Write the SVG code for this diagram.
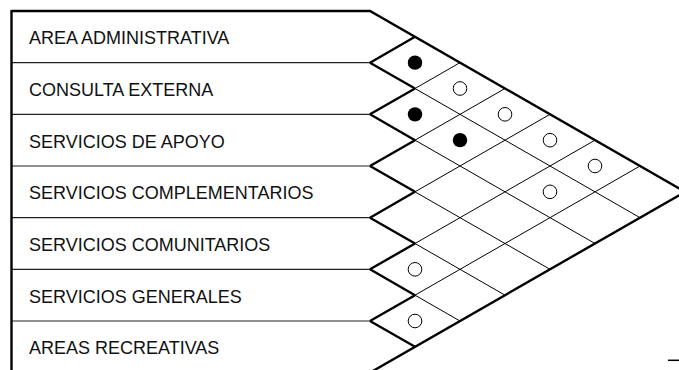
<svg xmlns="http://www.w3.org/2000/svg" width="679" height="370" viewBox="0 0 679 370">
<style>
.bg{fill:#fff}
.lbl{font-family:"Liberation Sans",Arial,sans-serif;font-size:18px;fill:#111}
.sep{stroke:#222;stroke-width:1.2;fill:none}
.thick{stroke:#000;stroke-width:2.4;fill:none;stroke-linejoin:miter}
.grid{stroke:#000;stroke-width:1;fill:none}
.full{fill:#000}
.empty{fill:none;stroke:#000;stroke-width:1}
</style>
<rect class="bg" x="0" y="0" width="679" height="370"/>
<g id="rows">
<g id="row-area-administrativa"><text class="lbl" x="29" y="44.2">AREA ADMINISTRATIVA</text></g>
<g id="row-consulta-externa"><text class="lbl" x="29" y="95.8">CONSULTA EXTERNA</text></g>
<g id="row-servicios-apoyo"><text class="lbl" x="29" y="147.5">SERVICIOS DE APOYO</text></g>
<g id="row-servicios-complementarios"><text class="lbl" x="29" y="199.2">SERVICIOS COMPLEMENTARIOS</text></g>
<g id="row-servicios-comunitarios"><text class="lbl" x="29" y="250.8">SERVICIOS COMUNITARIOS</text></g>
<g id="row-servicios-generales"><text class="lbl" x="29" y="302.5">SERVICIOS GENERALES</text></g>
<g id="row-areas-recreativas"><text class="lbl" x="29" y="354.2">AREAS RECREATIVAS</text></g>
</g>
<g id="connectors">
<path class="sep" d="M11,62.67H370M11,114.33H370M11,166H370M11,217.67H370M11,269.33H370M11,321H370"/>
<path class="grid" d="M415,88.5L460,62.67M415,140.17L505,88.5M415,191.83L550,114.33M415,243.5L595,140.17M415,295.17L640,166
M415,88.5L640,217.67M415,140.17L595,243.5M415,191.83L550,269.33M415,243.5L505,295.17M415,295.17L460,321"/>
<path class="thick" d="M11.5,11H370L685,191.83L370,372.67"/>
<path class="thick" d="M11.5,10V372"/>
<path class="thick" d="M370,62.67L415,88.5M415,36.83L370,62.67M370,114.33L415,140.17M415,88.5L370,114.33M370,166L415,191.83M415,140.17L370,166M370,217.67L415,243.5M415,191.83L370,217.67M370,269.33L415,295.17M415,243.5L370,269.33M370,321L415,346.83M415,295.17L370,321"/>
<path d="M668,360.3H679" stroke="#000" stroke-width="1.5"/>
</g>
<g id="marks">
<circle class="full" cx="415" cy="62.67" r="7.2"/>
<circle class="full" cx="415" cy="114.33" r="7.2"/>
<circle class="full" cx="460" cy="140.17" r="7.2"/>
<circle class="empty" cx="460" cy="88.5" r="6.8"/>
<circle class="empty" cx="505" cy="114.33" r="6.8"/>
<circle class="empty" cx="550" cy="140.17" r="6.8"/>
<circle class="empty" cx="595" cy="166" r="6.8"/>
<circle class="empty" cx="550" cy="191.83" r="6.8"/>
<circle class="empty" cx="415" cy="269.33" r="6.8"/>
<circle class="empty" cx="415" cy="321" r="6.8"/>
</g>
</svg>
